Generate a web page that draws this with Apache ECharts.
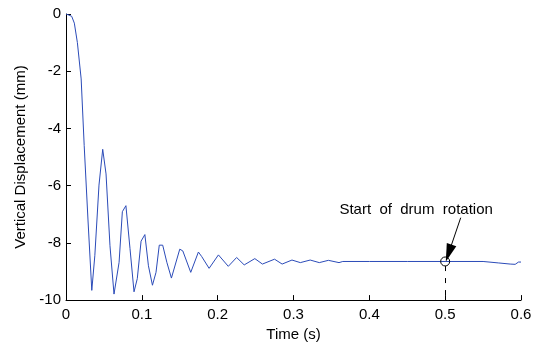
<!DOCTYPE html>
<html><head><meta charset="utf-8">
<script src="https://cdn.jsdelivr.net/npm/echarts@6/dist/echarts.min.js"></script>
<style>html,body{margin:0;padding:0;background:#fff}#c{width:545px;height:347px}</style>
</head><body><div id="c"></div>
<script>
var times = [0, 0.003, 0.0075, 0.011, 0.015, 0.020, 0.024, 0.029, 0.034, 0.038, 0.0435, 0.0484, 0.0528, 0.058, 0.0633, 0.070, 0.0743, 0.079, 0.0844, 0.0897, 0.094, 0.099, 0.104, 0.1087, 0.114, 0.1187, 0.123, 0.1275, 0.133, 0.139, 0.150, 0.154, 0.1645, 0.1746, 0.179, 0.1887, 0.201, 0.214, 0.225, 0.235, 0.249, 0.259, 0.275, 0.285, 0.298, 0.309, 0.322, 0.334, 0.346, 0.360, 0.365, 0.40, 0.45, 0.50, 0.55, 0.57, 0.5857, 0.5923, 0.5967, 0.60];
var displacement = [0, -0.03, -0.08, -0.32, -1.0, -2.27, -4.6, -7.2, -9.66, -8.45, -5.98, -4.73, -5.59, -8.1, -9.79, -8.68, -6.91, -6.70, -8.2, -9.71, -9.25, -7.94, -7.71, -8.8, -9.48, -9.03, -8.08, -8.08, -8.68, -9.23, -8.22, -8.28, -9.03, -8.32, -8.48, -8.89, -8.42, -8.82, -8.51, -8.77, -8.55, -8.74, -8.57, -8.74, -8.60, -8.69, -8.60, -8.69, -8.61, -8.69, -8.65, -8.65, -8.65, -8.65, -8.65, -8.70, -8.74, -8.75, -8.67, -8.67];
var xTicks = [0, 0.1, 0.2, 0.3, 0.4, 0.5, 0.6];
var yTicks = [-10, -8, -6, -4, -2, 0];
var annotationText = 'Start  of  drum  rotation';
var eventPoint = [0.5, -8.65];
var textPoint = [0.4617, -6.86];
var arrowFrom = [0.5205, -7.12];
var arrowTo = [0.5046, -8.36];

var data = times.map(function (t, i) { return [t, displacement[i]]; });
var font = 'Liberation Sans, Arial, Helvetica, sans-serif';
var chart = echarts.init(document.getElementById('c'), null, {renderer: 'canvas'});
chart.setOption({
  animation: false,
  grid: {left: 66, right: 24, top: 14, bottom: 42, containLabel: false},
  xAxis: {
    type: 'value', min: xTicks[0], max: xTicks[xTicks.length - 1], interval: 0.1,
    name: 'Time (s)', nameLocation: 'middle', nameGap: 26,
    nameTextStyle: {fontSize: 15, color: '#000', fontFamily: font},
    axisLine: {show: true, onZero: false, lineStyle: {color: '#000', width: 1}},
    axisTick: {show: true, inside: true, length: 5, lineStyle: {color: '#000'}},
    splitLine: {show: false},
    axisLabel: {fontSize: 15, color: '#000', fontFamily: font, margin: 7, showMaxLabel: true, showMinLabel: true,
      formatter: function (v) { return String(+v.toFixed(1)); }}
  },
  yAxis: {
    type: 'value', min: yTicks[0], max: yTicks[yTicks.length - 1], interval: 2,
    name: 'Vertical Displacement (mm)', nameLocation: 'middle', nameGap: 38, nameRotate: 90,
    nameTextStyle: {fontSize: 15, color: '#000', fontFamily: font},
    axisLine: {show: true, onZero: false, lineStyle: {color: '#000', width: 1}},
    axisTick: {show: true, inside: true, length: 5, lineStyle: {color: '#000'}},
    splitLine: {show: false},
    axisLabel: {fontSize: 15, color: '#000', fontFamily: font, margin: 5, showMaxLabel: true, showMinLabel: true}
  },
  series: [{
    type: 'line', data: data, showSymbol: false, symbol: 'none',
    lineStyle: {color: '#2b4bb8', width: 1}, itemStyle: {color: '#2b4bb8'},
    markLine: {
      silent: true, animation: false,
      symbol: ['none', 'none'],
      label: {show: false},
      data: [
        [{coord: [eventPoint[0], eventPoint[1] - 0.16], lineStyle: {color: '#000', width: 1, type: [5, 7]}},
         {coord: [eventPoint[0], yTicks[0]]}],
        [{coord: arrowFrom, lineStyle: {color: '#000', width: 1, type: 'solid'}},
         {coord: arrowTo, symbol: 'triangle', symbolSize: [10, 18], itemStyle: {color: '#000'}}]
      ]
    },
    markPoint: {
      silent: true, animation: false,
      data: [
        {coord: eventPoint, symbol: 'circle', symbolSize: 9,
         itemStyle: {color: 'rgba(0,0,0,0)', borderColor: '#000', borderWidth: 1}, label: {show: false}},
        {coord: textPoint, symbol: 'circle', symbolSize: 0,
         label: {show: true, position: 'inside', formatter: annotationText, fontSize: 15, color: '#000', fontFamily: font}}
      ]
    }
  }]
});
</script></body></html>
